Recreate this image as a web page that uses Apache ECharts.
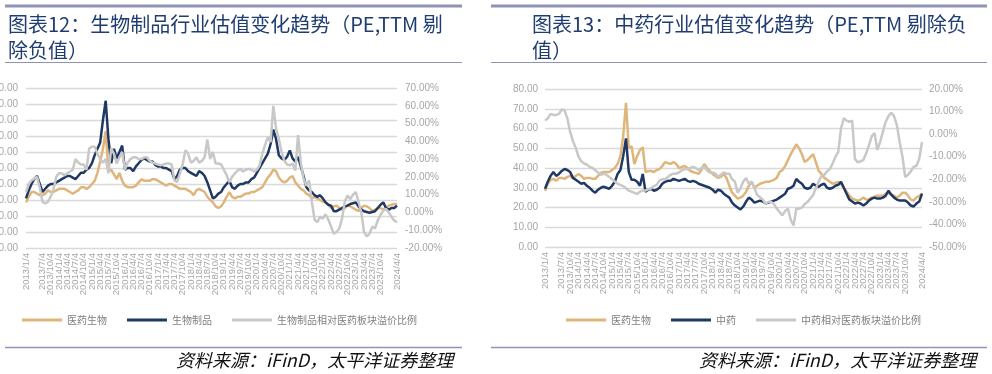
<!DOCTYPE html>
<html><head><meta charset="utf-8">
<script src="https://cdn.jsdelivr.net/npm/echarts@6/dist/echarts.min.js"></script>
<style>html,body{margin:0;padding:0;background:#fff}#c{width:992px;height:374px}</style>
</head><body><div id="c"></div>
<script>
// Monthly categories (quarterly labels shown)
const categories = [
'2013/1/4','2013/2/4','2013/3/4','2013/4/4','2013/5/4','2013/6/4','2013/7/4','2013/8/4','2013/9/4','2013/10/4','2013/11/4','2013/12/4',
'2014/1/4','2014/2/4','2014/3/4','2014/4/4','2014/5/4','2014/6/4','2014/7/4','2014/8/4','2014/9/4','2014/10/4','2014/11/4','2014/12/4',
'2015/1/4','2015/2/4','2015/3/4','2015/4/4','2015/5/4','2015/6/4','2015/7/4','2015/8/4','2015/9/4','2015/10/4','2015/11/4','2015/12/4',
'2016/1/4','2016/2/4','2016/3/4','2016/4/4','2016/5/4','2016/6/4','2016/7/4','2016/8/4','2016/9/4','2016/10/4','2016/11/4','2016/12/4',
'2017/1/4','2017/2/4','2017/3/4','2017/4/4','2017/5/4','2017/6/4','2017/7/4','2017/8/4','2017/9/4','2017/10/4','2017/11/4','2017/12/4',
'2018/1/4','2018/2/4','2018/3/4','2018/4/4','2018/5/4','2018/6/4','2018/7/4','2018/8/4','2018/9/4','2018/10/4','2018/11/4','2018/12/4',
'2019/1/4','2019/2/4','2019/3/4','2019/4/4','2019/5/4','2019/6/4','2019/7/4','2019/8/4','2019/9/4','2019/10/4','2019/11/4','2019/12/4',
'2020/1/4','2020/2/4','2020/3/4','2020/4/4','2020/5/4','2020/6/4','2020/7/4','2020/8/4','2020/9/4','2020/10/4','2020/11/4','2020/12/4',
'2021/1/4','2021/2/4','2021/3/4','2021/4/4','2021/5/4','2021/6/4','2021/7/4','2021/8/4','2021/9/4','2021/10/4','2021/11/4','2021/12/4',
'2022/1/4','2022/2/4','2022/3/4','2022/4/4','2022/5/4','2022/6/4','2022/7/4','2022/8/4','2022/9/4','2022/10/4','2022/11/4','2022/12/4',
'2023/1/4','2023/2/4','2023/3/4','2023/4/4','2023/5/4','2023/6/4','2023/7/4','2023/8/4','2023/9/4','2023/10/4','2023/11/4','2023/12/4',
'2024/1/4','2024/2/4','2024/3/4','2024/4/4'
];

// Left chart (图表12)
const pharmaPE_L = [
28.5,32,35,35,34,33,33,34,36,35,35,36,
37,37,37,36,35,34,35,36,38,38,37,38,
40,42,47,54,62,73,48,49,46,43,47,42,
39,38,38,38,39,41,43,42,42,42,43,43,
42,41,40,39,40,40,39,38,37,37,37,36,
35,33,36,37,36,35,32,30,28.5,26,25,26,
28.5,32,35,32,31,32,32,33,34,34,35,35,
36,37,38,41,44,46,49,48,44,42,41,42,
44,45,41,39,37,36,34,33,31,32,31,30,
29,28.5,27,25,26,26.5,25,24,25,26.5,26,25,
24,23,25,26.5,26,25,23,24,25,25,24,25,
26.5,27,27.5,27.5
];
const bioProductsPE = [
31,36,40,43,45,40,35,37,39,40,40,41,
42,43,44,45,45,44,43,45,47,47,49,50,
53,58,62,66,80,92,68,53,62,56,60,64,
49,50,50,48,51,53,55,56,55,54,54,52,
51,51,50,50,49,48,43,45,49,50,50,48,
47,46,45,48,47,45,41,36,31,32,34,35,
38,40,42,38,37,39,40,40,41,41,43,44,
47,50,53,56,59,65,74,68,58,56,55,57,
61,56,54,57,51,45,38,36,35,33,32,33,
31,28.5,27,26.5,23,23,24,25,26,26.5,27.5,28,
28.5,26,24,23,22.5,22,22.5,23,25,27,28.5,25,
24,25,25,26.5
];
const bioPremium = [
11.5,16,18,19,20,14,6,5,6,9,13,20,
22,22,21,22,23,24,30,28,27,27,24,36,
37,37,33,30,28,30,22,36,33,27.5,31,34,
24,28,30,31,31,30,30,31,31,29,28,27.5,
27,26.5,27,27.5,27.5,27,18,17,22,27,35,33,
28,29,31,28,29,31,41,30,34,27.5,27.5,27,
24,21,17,20,22,23.5,24.5,23,24,24.5,24,23,
24,26.5,33,38,42.5,39.5,60,47,41.5,34,29,27,
26.5,27.5,23.5,43.5,28,19,15,18,6,-4,-5.5,-2.5,
-3.5,-1,-4,-8,-12,-11,-9,-3.5,6,9.5,7.5,10,
11.5,6,0,-11,-13.5,-12,-8,-9,-4.5,-1.5,1,2,
0,-2.5,-4.5,-5.5
];

// Right chart (图表13)
const pharmaPE_R = [
28.5,32,34,34.5,33.5,35,35,34.5,35.5,36,35,36,
37,36,34.5,35,35,34.5,34.5,36,37.5,38,38,38,
39,40,42,46,56,73,50,51,42,46,49,50.5,
38,38.5,38.5,38,39,39.5,41,43,42.5,42,43,42,
40,40.5,41,40,38.5,38,37.5,37,39,42,40,38.5,
37,36,35,35.5,37,35,31,27.5,26,24.5,25,26,
28,31,33,30,31,32,32.5,33,33,33.5,34,35,
38,39,41,44,47,49.5,52,50,47,43,44,45.5,
47,43,38.5,37,35,34,33,32,32.5,33,32,30,
28,26,24.5,24,23.5,24,25,24,24,25,25.5,26,
26,26,27,27.5,26.5,26,25,26,27.5,27.5,26,24,
23.5,25,26,27
];
const tcmPE = [
29.5,33,36,38,36,37,38.5,39.5,39,38,35,34,
33,32,32.5,31,30,28.5,27.5,29,30,30.5,30,29.5,
31,33,37,39,46,55,38,34,34,33,31,37,
28,29,29.5,28.5,29,30,32,33,33.5,33.5,34.5,34,
33.5,34,34.5,33.5,33,33.5,33,32,31.5,31,30.5,30,
29,27.5,29,28.5,27,26,25,22.5,21,20,19,20.5,
23,25,24,22.5,23,23.5,23,22,22.5,23,23.5,24,
25,26,27,29.5,30,31,34.5,33,32,30,29.5,30,
32,31,30.5,31.5,32,30,29.5,30,31,31.5,33,30,
27,24,23,22,22.5,22,21,22,23.5,24.5,25,24.5,
24.5,25,26,28.5,26.5,25,24,23.5,23.5,23.5,22.5,21,
20.5,22,23,27
];
const tcmPremium = [
6,7,9,8.5,8.5,9,11,10.5,7,1,-3,-6,
-10,-12,-13,-13.5,-14.5,-15,-16,-17,-18,-17.5,-18,-19,
-20,-21,-22,-22.5,-23,-24,-25,-25.5,-26,-26.5,-25.5,-25,
-25,-24.5,-24,-23,-22.5,-20.5,-20,-20,-19,-18,-17.5,-17.5,
-17,-16,-15.5,-15.5,-15,-14.5,-15,-16,-15,-14.5,-16,-17,
-17,-17.5,-19,-18,-17,-17.5,-17.5,-20,-21,-26,-24,-21,
-19.5,-22,-21,-24,-27,-28,-29,-31,-30,-30,-31,-33,
-34.5,-36,-34,-33,-38,-40.5,-33,-33,-32.5,-31,-30,-28.5,
-27,-24,-21,-18.5,-18,-16.5,-15.5,-13,-10,-8,2.5,7,
6,5.5,6,-11,-12.5,-12,-11.5,-8.5,-5,-1,0.5,-7,
-3.5,1,5.5,8,9.5,8,4,-3.5,-10,-19,-18,-16.5,
-14.5,-14,-11,-3.5
];

const titleL = '图表12：生物制品行业估值变化趋势（PE,TTM 剔\n除负值）';
const titleR = '图表13：中药行业估值变化趋势（PE,TTM 剔除负\n值）';
const sourceText = '资料来源：iFinD，太平洋证券整理';
const legendL = ['医药生物', '生物制品', '生物制品相对医药板块溢价比例'];
const legendR = ['医药生物', '中药', '中药相对医药板块溢价比例'];

const C_ORANGE = '#dfb57c', C_BLUE = '#1f3864', C_GRAY = '#c8c8c8';
const CJK = '"Noto Sans CJK SC", "Liberation Sans", sans-serif';
const LAT = '"Liberation Sans", Arial, sans-serif';
const RULE = '#8f93b8';

const chart = echarts.init(document.getElementById('c'), null, {renderer: 'canvas'});

const xAxisBase = (gi) => ({
  type: 'category', gridIndex: gi, data: categories, boundaryGap: false,
  axisLine: {show: false}, axisTick: {show: false}, splitLine: {show: false},
  axisLabel: {rotate: 90, interval: 2, fontSize: 9.5, color: '#a6a6a6', margin: 5, fontFamily: LAT,
              showMinLabel: true, showMaxLabel: true, hideOverlap: false}
});
const yLab = (m, pct) => ({fontSize: 10, color: '#a6a6a6', margin: m, fontFamily: LAT,
  formatter: v => v.toFixed(2) + (pct ? '%' : '')});
const grid = {lineStyle: {color: '#d9d9d9', width: 1.3}};
const lineS = (name, data, color, xi, yi, z) => ({
  name, type: 'line', data, xAxisIndex: xi, yAxisIndex: yi, symbol: 'none', z,
  lineStyle: {color, width: 2.5}, itemStyle: {color}, emphasis: {disabled: true}
});
const hline = (x1, x2, y, w, c) => ({type: 'line', shape: {x1, y1: y, x2, y2: y}, style: {stroke: c, lineWidth: w}, silent: true});

chart.setOption({
  animation: false,
  backgroundColor: '#fff',
  title: [
    {text: titleL, left: 8, top: 11, padding: 0, textStyle: {fontSize: 20, fontWeight: 'normal', color: '#1f3d70', lineHeight: 26, fontFamily: CJK}},
    {text: titleR, left: 532, top: 11, padding: 0, textStyle: {fontSize: 20, fontWeight: 'normal', color: '#1f3d70', lineHeight: 26, fontFamily: CJK}},
    {text: sourceText, left: 176, top: 351, padding: 0, textStyle: {fontSize: 18, fontStyle: 'italic', fontWeight: 'normal', color: '#111', fontFamily: CJK}},
    {text: sourceText, left: 699, top: 351, padding: 0, textStyle: {fontSize: 18, fontStyle: 'italic', fontWeight: 'normal', color: '#111', fontFamily: CJK}}
  ],
  graphic: [
    hline(5, 462, 6, 3, RULE), hline(5, 462, 62.5, 1.2, RULE), hline(5, 462, 347.5, 1.5, RULE),
    hline(491, 987, 6, 3, RULE), hline(491, 987, 62.5, 1.2, RULE), hline(491, 987, 347.5, 1.5, RULE)
  ],
  legend: [
    {data: legendL, left: 22, top: 315, icon: 'rect', itemWidth: 40, itemHeight: 3, itemGap: 20, padding: 0,
     textStyle: {fontSize: 10, color: '#7f7f7f', fontFamily: CJK}, selectedMode: false},
    {data: legendR, left: 566, top: 315, icon: 'rect', itemWidth: 40, itemHeight: 3, itemGap: 20, padding: 0,
     textStyle: {fontSize: 10, color: '#7f7f7f', fontFamily: CJK}, selectedMode: false}
  ],
  grid: [
    {left: 26, right: 595, top: 88, bottom: 126, containLabel: false, outerBoundsMode: 'none'},
    {left: 545, right: 70, top: 89, bottom: 127, containLabel: false, outerBoundsMode: 'none'}
  ],
  xAxis: [xAxisBase(0), xAxisBase(1)],
  yAxis: [
    {type: 'value', gridIndex: 0, min: 0, max: 100, interval: 10, axisLine: {show: false}, axisTick: {show: false}, axisLabel: yLab(8, false), splitLine: grid},
    {type: 'value', gridIndex: 0, position: 'right', min: -20, max: 70, interval: 10, axisLine: {show: false}, axisTick: {show: false}, axisLabel: yLab(8, true), splitLine: {show: false}},
    {type: 'value', gridIndex: 1, min: 0, max: 80, interval: 10, axisLine: {show: false}, axisTick: {show: false}, axisLabel: yLab(7, false), splitLine: grid},
    {type: 'value', gridIndex: 1, position: 'right', min: -50, max: 20, interval: 10, axisLine: {show: false}, axisTick: {show: false}, axisLabel: yLab(7, true), splitLine: {show: false}}
  ],
  series: [
    lineS('医药生物', pharmaPE_L, C_ORANGE, 0, 0, 2),
    lineS('生物制品', bioProductsPE, C_BLUE, 0, 0, 3),
    lineS('生物制品相对医药板块溢价比例', bioPremium, C_GRAY, 0, 1, 4),
    lineS('医药生物', pharmaPE_R, C_ORANGE, 1, 2, 2),
    lineS('中药', tcmPE, C_BLUE, 1, 2, 3),
    lineS('中药相对医药板块溢价比例', tcmPremium, C_GRAY, 1, 3, 4)
  ]
});
</script>
</body></html>
